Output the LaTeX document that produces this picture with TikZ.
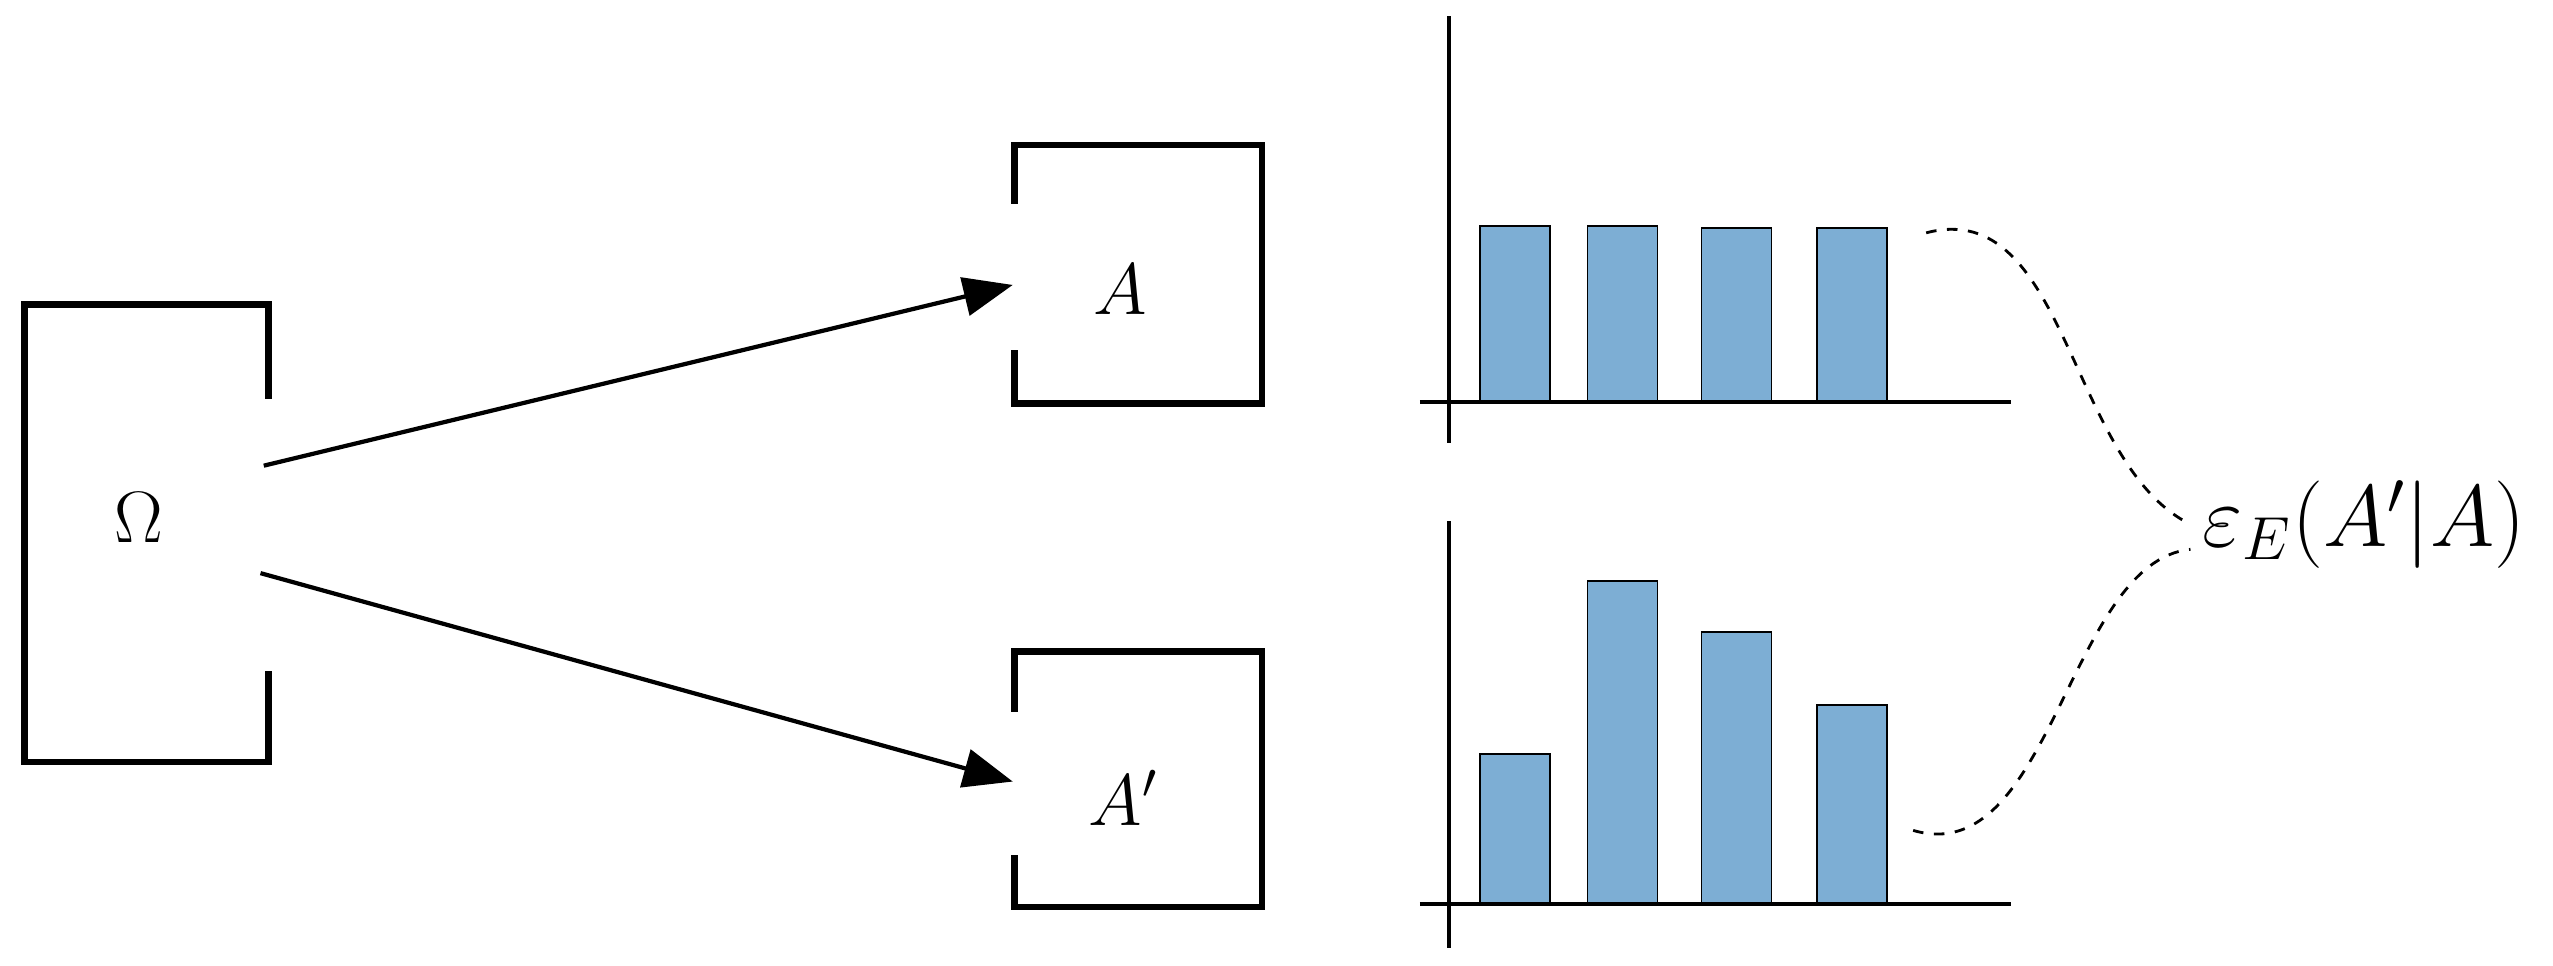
\documentclass[tikz,border=0pt]{standalone}
\usetikzlibrary{arrows.meta}
\definecolor{barblue}{RGB}{125,174,212}
\begin{document}
\begin{tikzpicture}[x=0.01628cm,y=-0.01628cm,
  boxline/.style={line width=1.9pt},
  arr/.style={line width=1.2pt,-{Triangle[length=14pt,width=11pt]}},
  axis/.style={line width=1.2pt},
  bar/.style={draw=black,line width=0.5pt,fill=barblue},
  dashcurve/.style={dashed,line width=0.8pt},
  lab/.style={font=\fontsize{21}{25}\selectfont}]
\useasboundingbox (0,0) rectangle (1568,593);
% Omega box
\draw[boxline] (165,245) -- (165,187) -- (15,187) -- (15,468) -- (165,468) -- (165,412);
\node[lab] (om) at (85,318) {$\Omega$};
\coordinate (omo1) at (162,286);
\coordinate (omo2) at (160,352);
% A box
\draw[boxline] (623,125) -- (623,89) -- (775,89) -- (775,248) -- (623,248) -- (623,215);
\node[lab] (a) at (688,178) {$A$};
\coordinate (ain) at (622,175);
% A' box
\draw[boxline] (623,437) -- (623,400) -- (775,400) -- (775,557) -- (623,557) -- (623,525);
\node[lab] (ap) at (690,490) {$A'$};
\coordinate (apin) at (622,480);
\draw[arr] (omo1) -- (ain);
\draw[arr] (omo2) -- (apin);
% top chart
\foreach \xa/\t in {909/139,975/139,1045/140,1116/140}
  \draw[bar] (\xa,247) rectangle (\xa+43,\t);
\draw[axis] (890,10) -- (890,272);
\draw[axis] (872,247) -- (1235,247);
% bottom chart
\foreach \xa/\t in {909/463,975/357,1045/388,1116/433}
  \draw[bar] (\xa,555) rectangle (\xa+43,\t);
\draw[axis] (890,320) -- (890,582);
\draw[axis] (872,555) -- (1235,555);
% label
\node[font=\fontsize{26}{30}\selectfont] (eps) at (1452,322) {$\varepsilon_E(A'|A)$};
\coordinate (c1) at (1183,143);
\coordinate (c2) at (1175,510);
\draw[dashcurve] (c1) .. controls (1270,120) and (1270,285) .. (eps.west);
\draw[dashcurve] (c2) .. controls (1260,535) and (1270,345) .. ([yshift=-0.25cm]eps.west);
\end{tikzpicture}
\end{document}
